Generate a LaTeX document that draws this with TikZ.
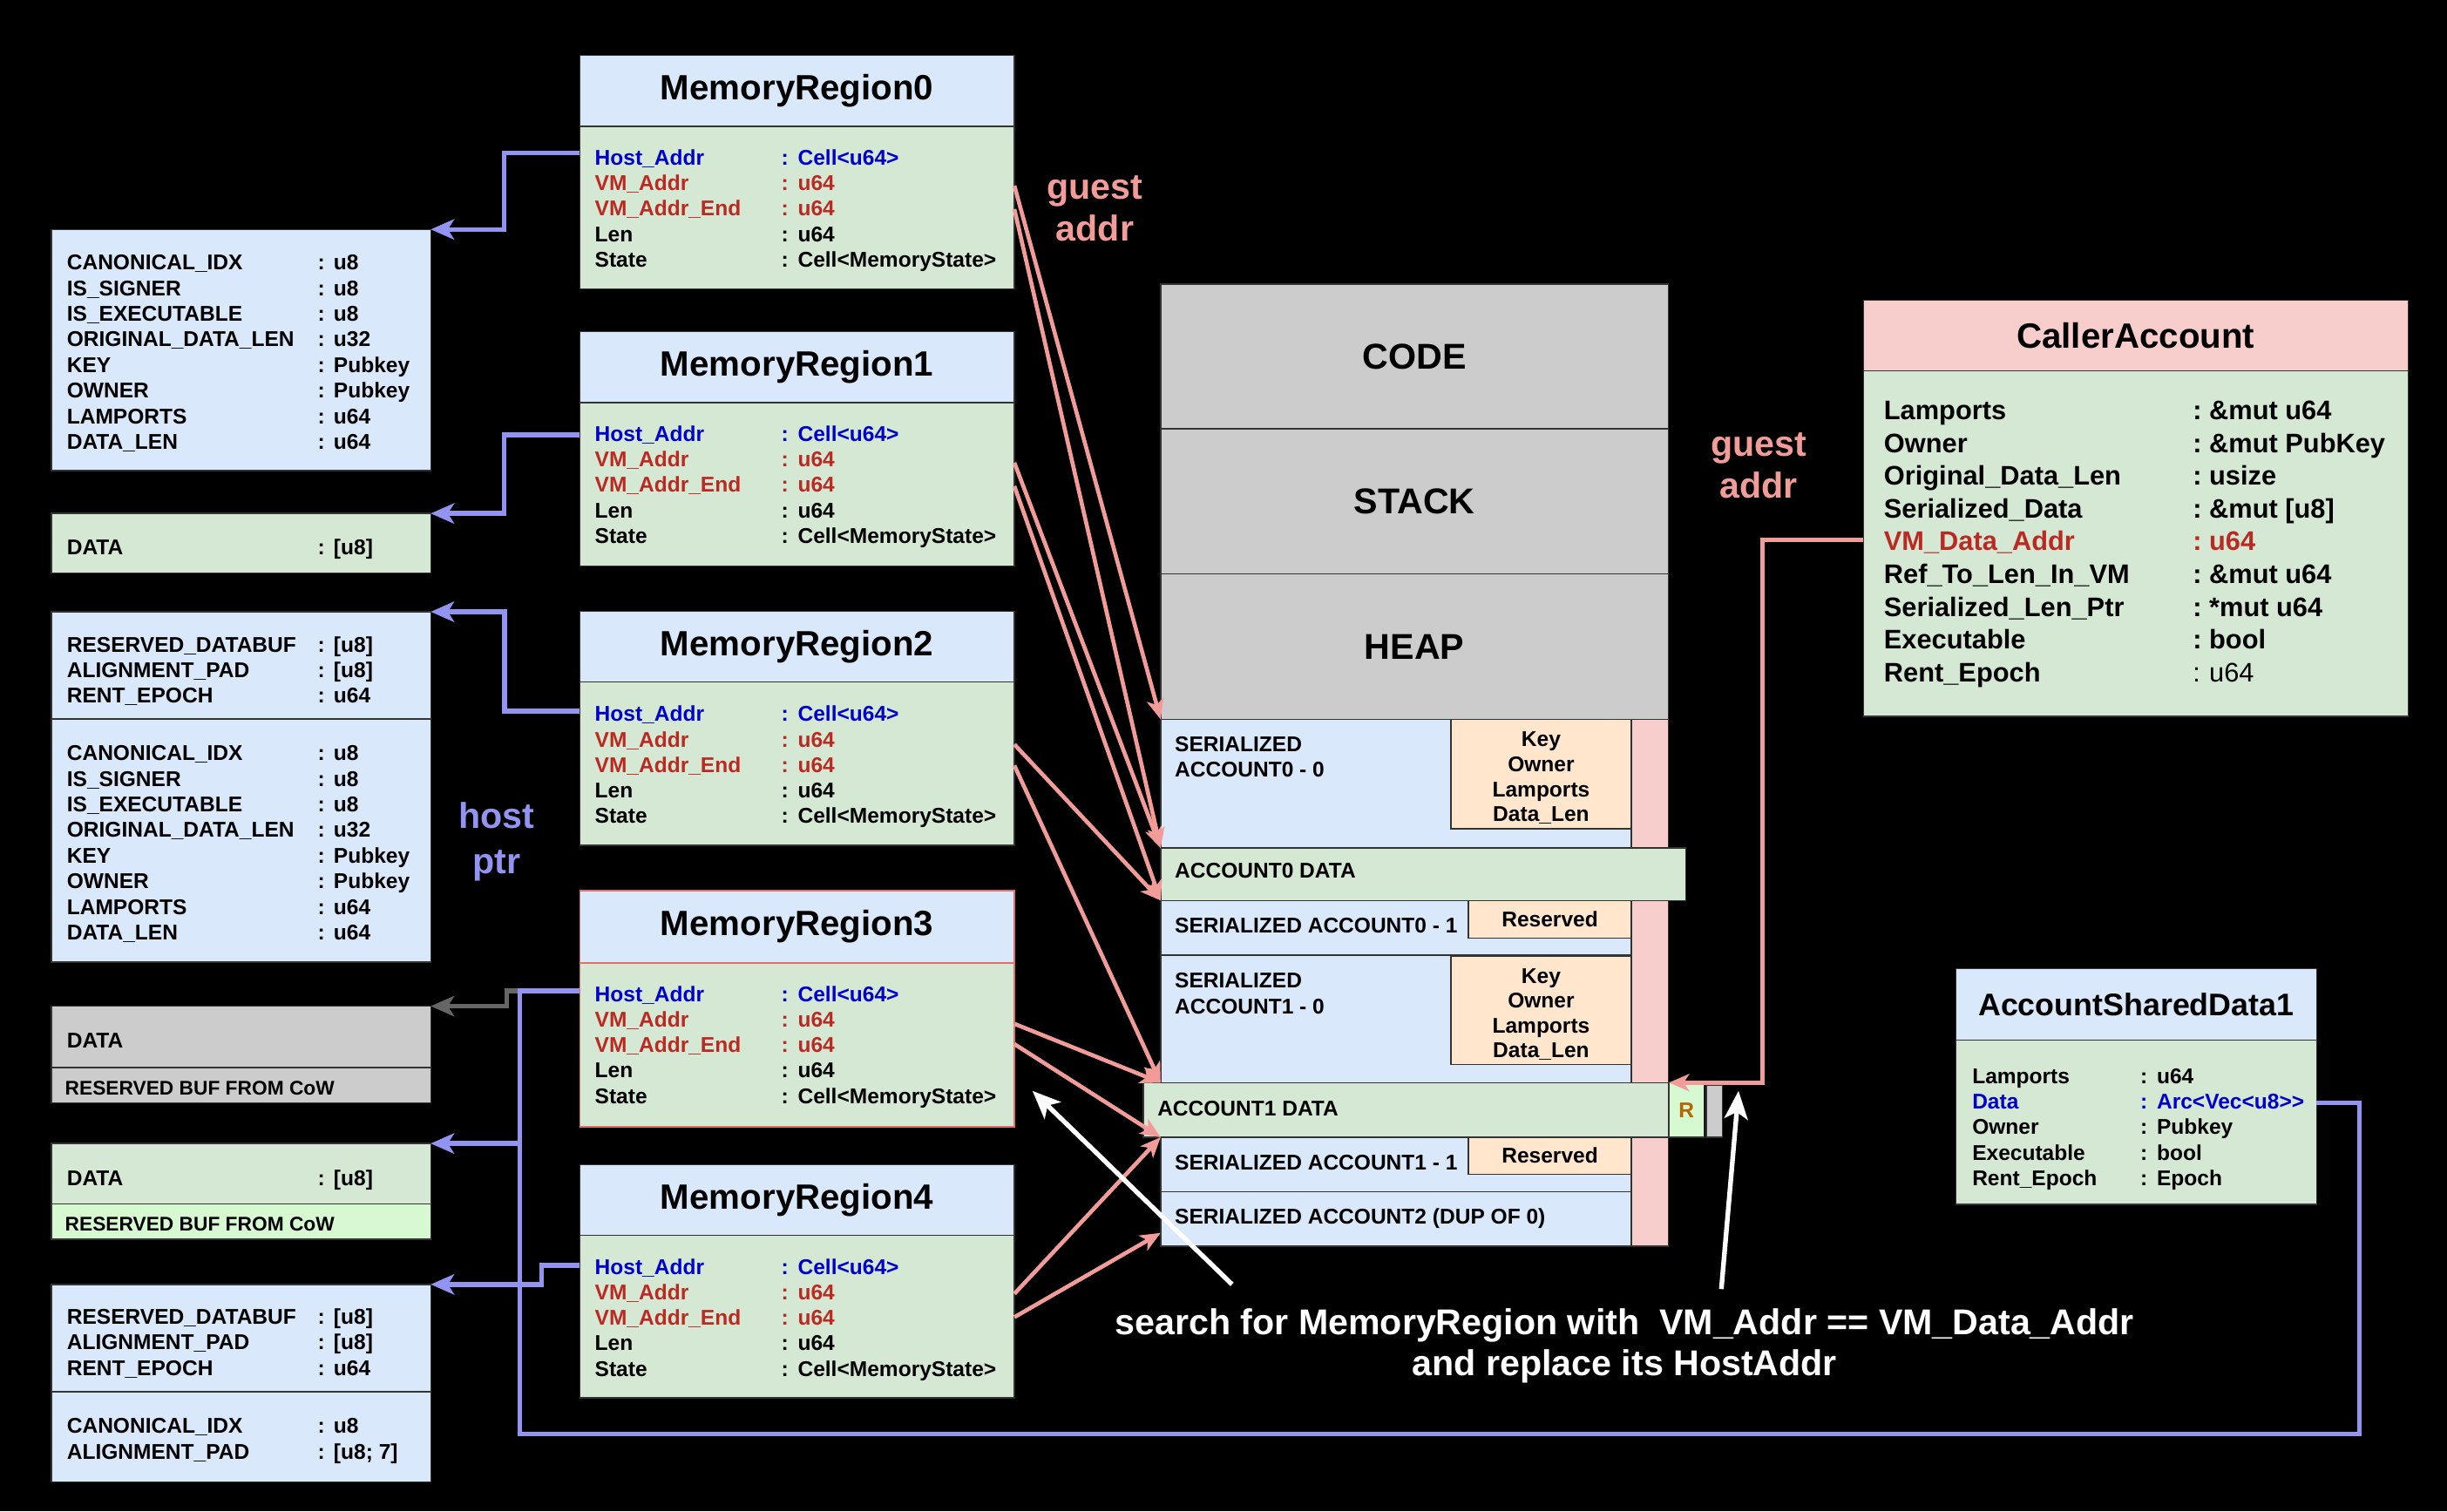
\documentclass[tikz,border=0pt]{standalone}
\usepackage{fontspec}
\setmainfont{Liberation Sans}
\usepackage{array}
\usetikzlibrary{arrows.meta}

\definecolor{cblue}{HTML}{DAE8FC}
\definecolor{cgreen}{HTML}{D5E8D4}
\definecolor{cgray}{HTML}{CCCCCC}
\definecolor{corange}{HTML}{FFE6CC}
\definecolor{cpink}{HTML}{F8CECC}
\definecolor{clight}{HTML}{D6F9D2}
\definecolor{hblue}{HTML}{0000CC}
\definecolor{hred}{HTML}{BB2A22}
\definecolor{guestc}{HTML}{F19C99}
\definecolor{hostc}{HTML}{9393F2}
\definecolor{oldc}{HTML}{666666}
\definecolor{mrred}{HTML}{E0706C}
\definecolor{rtext}{HTML}{B46504}

\newcommand{\regionrows}{%
	\begin{tabular}[t]{@{}w{l}{119.5pt}@{}l@{\hspace{6pt}}l@{}}
		\color{hblue}Host\_Addr & \color{hblue}: & \color{hblue}Cell<u64>\\
		\color{hred}VM\_Addr & \color{hred}: & \color{hred}u64\\
		\color{hred}VM\_Addr\_End & \color{hred}: & \color{hred}u64\\
		Len & : & u64\\
		State & : & Cell<MemoryState>
	\end{tabular}}

\begin{document}
\begin{tikzpicture}[x=1pt, y=-1pt,
		cellbox/.style = {draw=black!80, line width=0.8pt, inner sep=0pt, outer sep=0pt, anchor=north west},
		boxtitle/.style = {font=\bfseries\fontsize{22.5}{26}\selectfont},
		fieldtext/.style = {inner sep=0pt, anchor=base west, font=\bfseries\fontsize{13.7}{16.4}\selectfont},
		smalltext/.style = {inner sep=0pt, anchor=base west, font=\bfseries\fontsize{12.7}{15}\selectfont},
		keytext/.style = {inner sep=0pt, align=center, font=\bfseries\fontsize{13.7}{16}\selectfont},
		bigtext/.style = {align=center, inner sep=0pt, font=\bfseries\fontsize{23}{27}\selectfont},
		guestarrow/.style = {draw=guestc, line width=2.6pt, -{Stealth[length=13pt, width=11pt, inset=3.5pt]}},
		hostarrow/.style = {draw=hostc, line width=3pt, -{Stealth[length=15pt, width=13pt, inset=4pt]}},
		hostline/.style = {draw=hostc, line width=3pt},
		oldarrow/.style = {draw=oldc, line width=3pt, -{Stealth[length=15pt, width=13pt, inset=4pt]}},
		whitearrow/.style = {draw=white, line width=3pt, -{Stealth[length=18pt, width=15pt, inset=4.5pt]}}]

	\fill[black] (0,0) rectangle (1568,968.3);

	% host side account buffers
	\node[cellbox, fill=cblue, minimum width=243pt, minimum height=154.6pt] (metaA) at (33,147) {};
	\node[fieldtext] (metaAtxt) at (42.7,173) {\begin{tabular}[t]{@{}w{l}{160.7pt}@{}l@{\hspace{5.7pt}}l@{}}
		CANONICAL\_IDX & : & u8\\ IS\_SIGNER & : & u8\\ IS\_EXECUTABLE & : & u8\\ ORIGINAL\_DATA\_LEN & : & u32\\
		KEY & : & Pubkey\\ OWNER & : & Pubkey\\ LAMPORTS & : & u64\\ DATA\_LEN & : & u64
	\end{tabular}};
	\node[cellbox, fill=cgreen, minimum width=243pt, minimum height=38pt] (dataB) at (33,329) {};
	\node[fieldtext] (dataBtxt) at (42.7,355.5) {\begin{tabular}[t]{@{}w{l}{160.7pt}@{}l@{\hspace{5.7pt}}l@{}}
		DATA & : & [u8]
	\end{tabular}};
	\node[cellbox, fill=cblue, minimum width=243pt, minimum height=68.6pt] (metaC) at (33,392) {};
	\node[fieldtext] (metaCtxt) at (42.7,417.8) {\begin{tabular}[t]{@{}w{l}{160.7pt}@{}l@{\hspace{5.7pt}}l@{}}
		RESERVED\_DATABUF & : & [u8]\\ ALIGNMENT\_PAD & : & [u8]\\ RENT\_EPOCH & : & u64
	\end{tabular}};
	\node[cellbox, fill=cblue, minimum width=243pt, minimum height=155.9pt] (metaC2) at (33,460.6) {};
	\node[fieldtext] (metaC2txt) at (42.7,487.4) {\begin{tabular}[t]{@{}w{l}{160.7pt}@{}l@{\hspace{5.7pt}}l@{}}
		CANONICAL\_IDX & : & u8\\ IS\_SIGNER & : & u8\\ IS\_EXECUTABLE & : & u8\\ ORIGINAL\_DATA\_LEN & : & u32\\
		KEY & : & Pubkey\\ OWNER & : & Pubkey\\ LAMPORTS & : & u64\\ DATA\_LEN & : & u64
	\end{tabular}};
	\node[cellbox, fill=cgray, minimum width=243pt, minimum height=39.3pt] (dataD) at (33,644.7) {};
	\node[fieldtext] (dataDtxt) at (42.7,671.5) {DATA};
	\node[cellbox, fill=cgray, minimum width=243pt, minimum height=22.5pt] (cowD) at (33,684) {};
	\node[smalltext] (cowDtxt) at (41.5,701.7) {RESERVED BUF FROM CoW};
	\node[cellbox, fill=cgreen, minimum width=243pt, minimum height=38.6pt] (dataE) at (33,732.7) {};
	\node[fieldtext] (dataEtxt) at (42.7,759.5) {\begin{tabular}[t]{@{}w{l}{160.7pt}@{}l@{\hspace{5.7pt}}l@{}}
		DATA & : & [u8]
	\end{tabular}};
	\node[cellbox, fill=clight, minimum width=243pt, minimum height=22.7pt] (cowE) at (33,771.3) {};
	\node[smalltext] (cowEtxt) at (41.5,789) {RESERVED BUF FROM CoW};
	\node[cellbox, fill=cblue, minimum width=243pt, minimum height=68.7pt] (metaF) at (33,823) {};
	\node[fieldtext, font=\bfseries\fontsize{13.7}{16.6}\selectfont] (metaFtxt) at (42.7,848.3) {\begin{tabular}[t]{@{}w{l}{160.7pt}@{}l@{\hspace{5.7pt}}l@{}}
		RESERVED\_DATABUF & : & [u8]\\ ALIGNMENT\_PAD & : & [u8]\\ RENT\_EPOCH & : & u64
	\end{tabular}};
	\node[cellbox, fill=cblue, minimum width=243pt, minimum height=57.9pt] (metaF2) at (33,891.7) {};
	\node[fieldtext, font=\bfseries\fontsize{13.7}{16.6}\selectfont] (metaF2txt) at (42.7,918.5) {\begin{tabular}[t]{@{}w{l}{160.7pt}@{}l@{\hspace{5.7pt}}l@{}}
		CANONICAL\_IDX & : & u8\\ ALIGNMENT\_PAD & : & [u8; 7]
	\end{tabular}};

	% memory regions
	\node[cellbox, boxtitle, fill=cblue, minimum width=278.5pt, minimum height=45.5pt] (mr0head) at (371.5,35.5) {MemoryRegion0};
	\node[cellbox, fill=cgreen, minimum width=278.5pt, minimum height=104pt] (mr0body) at (mr0head.south west) {};
	\node[fieldtext, font=\bfseries\fontsize{13.7}{16.3}\selectfont] (mr0txt) at (381,105.8) {\regionrows};
	\node[cellbox, boxtitle, fill=cblue, minimum width=278.5pt, minimum height=45.6pt] (mr1head) at (371.5,212.4) {MemoryRegion1};
	\node[cellbox, fill=cgreen, minimum width=278.5pt, minimum height=104.7pt] (mr1body) at (mr1head.south west) {};
	\node[fieldtext, font=\bfseries\fontsize{13.7}{16.3}\selectfont] (mr1txt) at (381,282.8) {\regionrows};
	\node[cellbox, boxtitle, fill=cblue, minimum width=278.5pt, minimum height=45.2pt] (mr2head) at (371.5,391.8) {MemoryRegion2};
	\node[cellbox, fill=cgreen, minimum width=278.5pt, minimum height=104.6pt] (mr2body) at (mr2head.south west) {};
	\node[fieldtext, font=\bfseries\fontsize{13.7}{16.3}\selectfont] (mr2txt) at (381,462.3) {\regionrows};
	\node[cellbox, boxtitle, draw=mrred, fill=cblue, minimum width=278.5pt, minimum height=46.3pt] (mr3head) at (371.5,570.7) {MemoryRegion3};
	\node[cellbox, draw=mrred, fill=cgreen, minimum width=278.5pt, minimum height=105pt] (mr3body) at (mr3head.south west) {};
	\node[fieldtext, font=\bfseries\fontsize{13.7}{16.3}\selectfont] (mr3txt) at (381,641.8) {\regionrows};
	\node[cellbox, boxtitle, fill=cblue, minimum width=278.5pt, minimum height=45.2pt] (mr4head) at (371.5,746.2) {MemoryRegion4};
	\node[cellbox, fill=cgreen, minimum width=278.5pt, minimum height=104.2pt] (mr4body) at (mr4head.south west) {};
	\node[fieldtext, font=\bfseries\fontsize{13.7}{16.3}\selectfont] (mr4txt) at (381,816.6) {\regionrows};

	% guest memory map
	\node[cellbox, fill=cgray, minimum width=325.3pt, minimum height=92.7pt, font=\bfseries\fontsize{23}{27}\selectfont] (code) at (743.7,182) {CODE};
	\node[cellbox, fill=cgray, minimum width=325.3pt, minimum height=93pt, font=\bfseries\fontsize{23}{27}\selectfont] (stack) at (743.7,274.7) {STACK};
	\node[cellbox, fill=cgray, minimum width=325.3pt, minimum height=93.2pt, font=\bfseries\fontsize{23}{27}\selectfont] (heap) at (743.7,367.7) {HEAP};
	\node[cellbox, fill=cpink, minimum width=23.7pt, minimum height=337.5pt] (strip) at (1045.3,460.9) {};
	\node[cellbox, fill=cblue, minimum width=301.6pt, minimum height=82.5pt] (sacc00) at (743.7,460.9) {};
	\node[fieldtext, align=left, font=\bfseries\fontsize{13.7}{16.2}\selectfont] (sacc00txt) at (752.6,497.6) {SERIALIZED\\ACCOUNT0 - 0};
	\node[cellbox, fill=corange, minimum width=115.6pt, minimum height=70.1pt] (keys0) at (929.7,460.9) {};
	\node[keytext] (keys0txt) at (987.5,498.5) {Key\\Owner\\Lamports\\Data\_Len};
	\node[cellbox, fill=cgreen, minimum width=336.5pt, minimum height=33.6pt] (acc0data) at (743.7,543.4) {};
	\node[fieldtext] (acc0datatxt) at (752.6,562.6) {ACCOUNT0 DATA};
	\node[cellbox, fill=cblue, minimum width=301.6pt, minimum height=35pt] (sacc01) at (743.7,577) {};
	\node[fieldtext] (sacc01txt) at (752.6,597.5) {SERIALIZED ACCOUNT0 - 1};
	\node[cellbox, fill=corange, minimum width=104.3pt, minimum height=24pt, font=\bfseries\fontsize{13.7}{16}\selectfont] (res0) at (941,577) {Reserved};
	\node[cellbox, fill=cblue, minimum width=301.6pt, minimum height=81.7pt] (sacc10) at (743.7,612) {};
	\node[fieldtext, align=left, font=\bfseries\fontsize{13.7}{16.6}\selectfont] (sacc10txt) at (752.6,649.6) {SERIALIZED\\ACCOUNT1 - 0};
	\node[cellbox, fill=corange, minimum width=115.6pt, minimum height=69pt] (keys1) at (929.7,613) {};
	\node[keytext] (keys1txt) at (987.5,650) {Key\\Owner\\Lamports\\Data\_Len};
	\node[cellbox, fill=cgreen, minimum width=336.9pt, minimum height=35pt] (acc1data) at (732.5,693.7) {};
	\node[fieldtext] (acc1datatxt) at (741.5,714.8) {ACCOUNT1 DATA};
	\node[cellbox, fill=clight, text=rtext, minimum width=22.4pt, minimum height=35pt, font=\bfseries\fontsize{13.7}{16}\selectfont] (rbox) at (1069.4,693.7) {R};
	\node[cellbox, fill=cgray, minimum width=10.3pt, minimum height=33.2pt] (gbox) at (1093.3,695.5) {};
	\node[cellbox, fill=cblue, minimum width=301.6pt, minimum height=34.8pt] (sacc11) at (743.7,728.7) {};
	\node[fieldtext] (sacc11txt) at (752.6,749.8) {SERIALIZED ACCOUNT1 - 1};
	\node[cellbox, fill=corange, minimum width=104.3pt, minimum height=23.6pt, font=\bfseries\fontsize{13.7}{16}\selectfont] (res1) at (941,728.7) {Reserved};
	\node[cellbox, fill=cblue, minimum width=301.6pt, minimum height=34.9pt] (sacc2) at (743.7,763.5) {};
	\node[fieldtext] (sacc2txt) at (752.6,784.5) {SERIALIZED ACCOUNT2 (DUP OF 0)};

	% caller account
	\node[cellbox, boxtitle, fill=cpink, minimum width=349pt, minimum height=45.3pt] (callerhead) at (1194,192.4) {CallerAccount};
	\node[cellbox, fill=cgreen, minimum width=349pt, minimum height=221.3pt] (callerbody) at (callerhead.south west) {};
	\node[fieldtext, font=\bfseries\fontsize{17.2}{21}\selectfont] (callertxt) at (1207,268.9) {\begin{tabular}[t]{@{}w{l}{198pt}@{}l@{\hspace{4.7pt}}l@{}}
		Lamports & : & \&mut u64\\
		Owner & : & \&mut PubKey\\
		Original\_Data\_Len & : & usize\\
		Serialized\_Data & : & \&mut [u8]\\
		\color{hred}VM\_Data\_Addr & \color{hred}: & \color{hred}u64\\
		Ref\_To\_Len\_In\_VM & : & \&mut u64\\
		Serialized\_Len\_Ptr & : & *mut u64\\
		Executable & : & bool\\
		Rent\_Epoch & \mdseries : & \mdseries u64
	\end{tabular}};

	% account shared data
	\node[cellbox, fill=cblue, minimum width=231.2pt, minimum height=45.7pt, font=\bfseries\fontsize{20}{24}\selectfont] (asdhead) at (1253.2,620.8) {AccountSharedData1};
	\node[cellbox, fill=cgreen, minimum width=231.2pt, minimum height=105.3pt] (asdbody) at (asdhead.south west) {};
	\node[fieldtext, font=\bfseries\fontsize{13.7}{16.3}\selectfont] (asdtxt) at (1263.6,694.4) {\begin{tabular}[t]{@{}w{l}{107.7pt}@{}l@{\hspace{6pt}}l@{}}
		Lamports & : & u64\\
		\color{hblue}Data & \color{hblue}: & \color{hblue}Arc<Vec<u8>{}>\\
		Owner & : & Pubkey\\
		Executable & : & bool\\
		Rent\_Epoch & : & Epoch
	\end{tabular}};

	% free labels
	\node[bigtext, text=guestc] (guesttop) at (701.6,133.5) {guest\\addr};
	\node[bigtext, text=guestc] (guestright) at (1127,298.5) {guest\\addr};
	\node[bigtext, text=hostc, font=\bfseries\fontsize{23}{29}\selectfont] (hostptr) at (318.3,539.5) {host\\ptr};
	\node[bigtext, text=white, font=\bfseries\fontsize{23}{26.5}\selectfont] (search) at (1041,862.5) {search for MemoryRegion with\ \ VM\_Addr == VM\_Data\_Addr\\and replace its HostAddr};

	% connector ends
	\coordinate (mr0host) at (371.5,98);
	\coordinate (mr1host) at (371.5,278.7);
	\coordinate (mr2host) at (371.5,455.6);
	\coordinate (mr3host) at (371.5,635);
	\coordinate (mr4host) at (371.5,810.7);
	\coordinate (mr0va) at (650,119);
	\coordinate (mr0ve) at (650,134);
	\coordinate (mr1va) at (650,296.5);
	\coordinate (mr1ve) at (650,311.5);
	\coordinate (mr2va) at (650,477);
	\coordinate (mr2ve) at (650,490.5);
	\coordinate (mr3va) at (650,656);
	\coordinate (mr3ve) at (650,669);
	\coordinate (mr4va) at (650,829);
	\coordinate (mr4ve) at (650,844);
	\coordinate (acc2end) at (743.7,790);
	\coordinate (cavm) at (1194,346);
	\coordinate (asddata) at (1484.4,706.7);
	\coordinate (ptrjoin) at (333,732.7);
	\coordinate (oldjoin) at (333,635);
	\coordinate (searchA) at (789.5,823);
	\coordinate (searchAtip) at (661.6,699);
	\coordinate (searchB) at (1103,826);
	\coordinate (searchBtip) at (1114,699);

	% host pointers
	\draw[hostarrow] (mr0host) -- (323,98) |- (metaA.north east);
	\draw[hostarrow] (mr1host) -- (323,278.7) |- (dataB.north east);
	\draw[hostarrow] (mr2host) -- (323.4,455.6) |- (metaC.north east);
	\draw[oldarrow] (oldjoin) -- (324.7,635) |- (dataD.north east);
	\draw[hostarrow] (mr3host) -- (oldjoin) |- (dataE.north east);
	\draw[hostarrow] (mr4host) -- (347,810.7) |- (metaF.north east);
	\draw[hostline] (asddata) -| (1512,919) -| (ptrjoin);

	% guest addresses
	\draw[guestarrow] (mr0va) -- (sacc00.north west);
	\draw[guestarrow] (mr0ve) -- (acc0data.north west);
	\draw[guestarrow] (mr1va) -- (acc0data.north west);
	\draw[guestarrow] (mr1ve) -- (acc0data.south west);
	\draw[guestarrow] (mr2va) -- (sacc01.north west);
	\draw[guestarrow] (mr2ve) -- (sacc10.south west);
	\draw[guestarrow] (mr3va) -- (sacc10.south west);
	\draw[guestarrow] (mr3ve) -- (sacc11.north west);
	\draw[guestarrow] (mr4va) -- (sacc11.north west);
	\draw[guestarrow] (mr4ve) -- (acc2end);
	\draw[guestarrow] (cavm) -- (1129.5,346) |- (acc1data.north east);

	% search
	\draw[whitearrow] (searchA) -- (searchAtip);
	\draw[whitearrow] (searchB) -- (searchBtip);
\end{tikzpicture}
\end{document}
